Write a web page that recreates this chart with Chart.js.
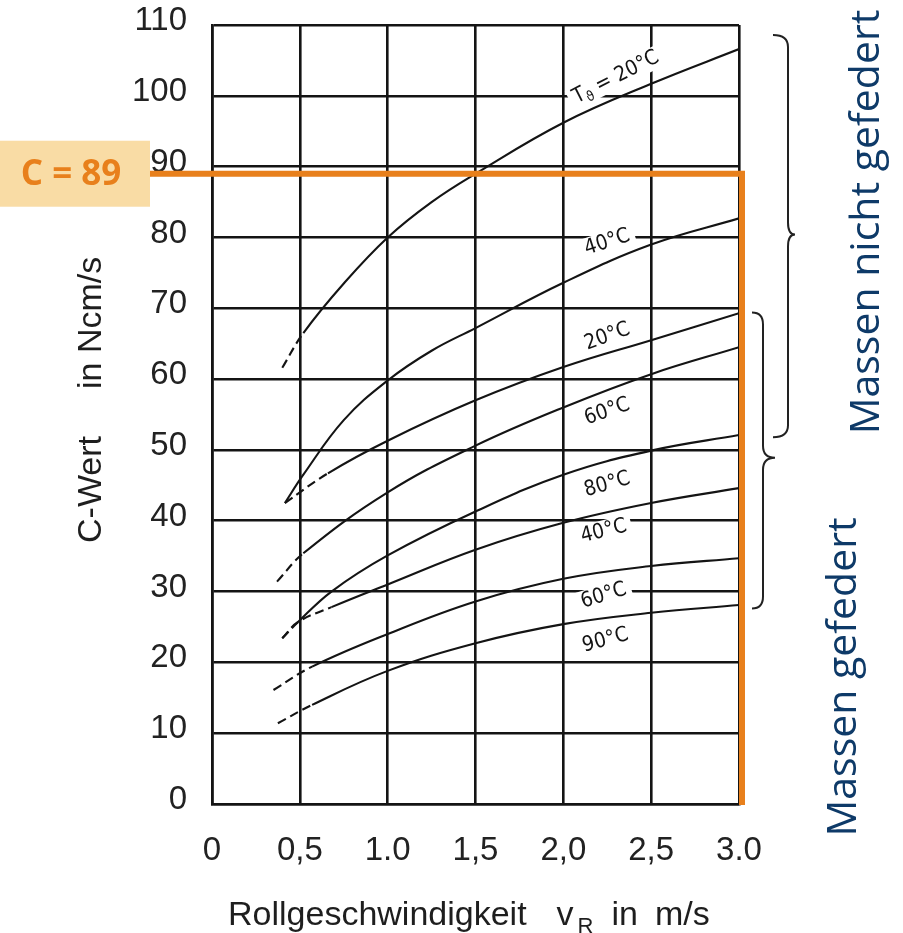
<!DOCTYPE html>
<html lang="de">
<head>
<meta charset="utf-8">
<title>C-Wert über Rollgeschwindigkeit</title>
<script src="https://cdn.jsdelivr.net/npm/chart.js@4.4.1/dist/chart.umd.min.js"></script>
<style>
    html, body { margin: 0; padding: 0; background: #fff; }
    #wrap { width: 903px; height: 933px; }
</style>
</head>
<body>
<div id="wrap"><canvas id="chart" width="903" height="933"></canvas></div>
<script>
// Values: x = Rollgeschwindigkeit v_R (m/s), y = C-Wert (Ncm/s)
const xTickLabels = ['0', '0,5', '1.0', '1,5', '2,0', '2,5', '3.0'];

// Massen nicht gefedert
const n20X = [0.40, 0.52, 0.75, 1.00, 1.25, 1.50, 2.00, 2.50, 3.00];
const n20Y = [61.6, 66.5, 73.5, 80.0, 85.0, 89.0, 96.2, 101.7, 106.6];
const n40X = [0.415, 0.52, 0.75, 1.00, 1.25, 1.50, 2.00, 2.50, 3.00];
const n40Y = [42.5, 46.5, 54.2, 59.8, 64.0, 67.2, 73.6, 79.0, 82.7];

// Massen gefedert
const g20X = [0.415, 0.66, 1.00, 1.50, 2.00, 2.50, 3.00];
const g20Y = [42.5, 46.7, 51.3, 57.0, 61.7, 65.5, 69.3];
const g60X = [0.37, 0.52, 1.00, 1.50, 2.00, 2.50, 3.00];
const g60Y = [31.4, 35.4, 44.0, 50.6, 56.0, 60.7, 64.5];
const g80X = [0.40, 0.49, 0.68, 1.00, 1.50, 2.00, 2.50, 3.00];
const g80Y = [23.4, 25.7, 30.0, 35.1, 41.3, 46.5, 49.9, 52.1];
const g40X = [0.40, 0.49, 0.68, 1.00, 1.50, 2.00, 2.50, 3.00];
const g40Y = [23.4, 25.7, 27.8, 31.0, 35.9, 39.7, 42.5, 44.6];
const g60bX = [0.35, 0.57, 1.00, 1.50, 2.00, 2.50, 3.00];
const g60bY = [16.1, 19.4, 24.0, 28.6, 31.8, 33.6, 34.7];
const g90X = [0.375, 0.57, 1.00, 1.50, 2.00, 2.50, 3.00];
const g90Y = [11.4, 14.0, 18.8, 22.7, 25.4, 27.0, 28.1];

// number of leading dashed segments per curve
const dashedSegments = [1, 0, 1, 1, 1, 2, 1, 1];

// marked reading: C at v_R = 3.0 m/s
const cValue = 89;
const cSpeed = 3.0;

// curve labels (anchor in data units, angle in degrees)
const curveLabels = [
    { text: 'T', sub: 'ϑ', rest: ' = 20°C', x: 2.30, y: 102.6, angle: -27 },
    { text: '40°C', x: 2.25, y: 79.3, angle: -18 },
    { text: '20°C', x: 2.25, y: 66.0, angle: -20 },
    { text: '60°C', x: 2.25, y: 55.4, angle: -19 },
    { text: '80°C', x: 2.25, y: 45.1, angle: -16 },
    { text: '40°C', x: 2.23, y: 38.5, angle: -14 },
    { text: '60°C', x: 2.23, y: 29.4, angle: -17 },
    { text: '90°C', x: 2.24, y: 23.1, angle: -15 },
];

// brace ranges in C-Wert units
const braceUpper = { top: 108.6, tip: 80.4, bottom: 51.8 };
const braceLower = { top: 69.4, tip: 48.9, bottom: 27.6 };

const curves = [
    [n20X, n20Y], [n40X, n40Y], [g20X, g20Y], [g60X, g60Y],
    [g80X, g80Y], [g40X, g40Y], [g60bX, g60bY], [g90X, g90Y],
];

const INK = '#141414';
const ORANGE = '#E8801C';
const NAVY = '#0E3A68';
const labelFont = '21px "DejaVu Sans Condensed", "Liberation Sans Narrow", sans-serif';
const subFont = '14px "DejaVu Sans Condensed", "Liberation Sans Narrow", sans-serif';

const datasets = curves.map(([xs, ys], i) => ({
    data: xs.map((x, k) => ({ x, y: ys[k] })),
    borderColor: INK,
    borderWidth: 2.1,
    pointRadius: 0,
    fill: false,
    tension: 0.4,
    segment: {
        borderDash: c => (c.p1DataIndex <= dashedSegments[i] ? [9, 5] : undefined),
    },
}));

function labelWidth(ctx, l) {
    ctx.font = labelFont;
    let w = ctx.measureText(l.text).width;
    if (l.sub) {
        ctx.font = subFont;
        w += ctx.measureText(l.sub).width;
        ctx.font = labelFont;
        w += ctx.measureText(l.rest).width;
    }
    return w;
}

function drawBrace(ctx, xLine, xHook, xTip, yTop, yTip, yBot) {
    const r = 12;
    ctx.beginPath();
    ctx.moveTo(xHook, yTop);
    ctx.quadraticCurveTo(xLine, yTop, xLine, yTop + r);
    ctx.lineTo(xLine, yTip - r);
    ctx.quadraticCurveTo(xLine, yTip, xTip, yTip);
    ctx.quadraticCurveTo(xLine, yTip, xLine, yTip + r);
    ctx.lineTo(xLine, yBot - r);
    ctx.quadraticCurveTo(xLine, yBot, xHook, yBot);
    ctx.stroke();
}

const decorations = {
    id: 'decorations',
    beforeDatasetsDraw(chart) {
        // white patches under the curve labels, cutting the grid
        const { ctx, scales: { x, y } } = chart;
        ctx.save();
        curveLabels.forEach(l => {
            const w = labelWidth(ctx, l);
            ctx.save();
            ctx.translate(x.getPixelForValue(l.x), y.getPixelForValue(l.y));
            ctx.rotate(l.angle * Math.PI / 180);
            ctx.fillStyle = '#fff';
            ctx.fillRect(-w / 2 - 5, -11, w + 10, 22);
            ctx.restore();
        });
        ctx.restore();
    },
    afterDatasetsDraw(chart) {
        const { ctx, scales: { x, y } } = chart;
        ctx.save();
        ctx.fillStyle = INK;
        ctx.textBaseline = 'middle';
        ctx.textAlign = 'left';
        curveLabels.forEach(l => {
            const w = labelWidth(ctx, l);
            ctx.save();
            ctx.translate(x.getPixelForValue(l.x), y.getPixelForValue(l.y));
            ctx.rotate(l.angle * Math.PI / 180);
            ctx.font = labelFont;
            let cx = -w / 2;
            ctx.fillText(l.text, cx, 0);
            cx += ctx.measureText(l.text).width;
            if (l.sub) {
                ctx.font = subFont;
                ctx.fillText(l.sub, cx, 6);
                cx += ctx.measureText(l.sub).width;
                ctx.font = labelFont;
                ctx.fillText(l.rest, cx, 0);
            }
            ctx.restore();
        });
        ctx.restore();
    },
    afterDraw(chart) {
        const { ctx, chartArea: area, scales: { x, y } } = chart;
        ctx.save();

        // axis titles
        ctx.fillStyle = '#1e1e1e';
        ctx.textBaseline = 'alphabetic';
        ctx.textAlign = 'left';
        const big = '34px "Liberation Sans", Arial, sans-serif';
        const small = '22px "Liberation Sans", Arial, sans-serif';
        let tx = area.left + 16;
        const ty = area.bottom + 121;
        ctx.font = big;
        ctx.fillText('Rollgeschwindigkeit', tx, ty);
        tx += ctx.measureText('Rollgeschwindigkeit').width + 30;
        ctx.fillText('v', tx, ty);
        tx += ctx.measureText('v').width + 4;
        ctx.font = small;
        ctx.fillText('R', tx, ty + 8);
        tx += ctx.measureText('R').width + 18;
        ctx.font = big;
        ctx.fillText('in', tx, ty);
        tx += ctx.measureText('in').width + 17;
        ctx.fillText('m/s', tx, ty);

        ctx.save();
        ctx.translate(area.left - 111, area.bottom - 261);
        ctx.rotate(-Math.PI / 2);
        ctx.font = big;
        ctx.fillText('C-Wert', 0, 0);
        ctx.fillText('in Ncm/s', ctx.measureText('C-Wert').width + 47, 0);
        ctx.restore();

        // braces
        ctx.strokeStyle = '#222';
        ctx.lineWidth = 2;
        drawBrace(ctx, area.right + 49, area.right + 34, area.right + 56,
            y.getPixelForValue(braceUpper.top), y.getPixelForValue(braceUpper.tip),
            y.getPixelForValue(braceUpper.bottom));
        drawBrace(ctx, area.right + 24, area.right + 13, area.right + 36,
            y.getPixelForValue(braceLower.top), y.getPixelForValue(braceLower.tip),
            y.getPixelForValue(braceLower.bottom));

        // group captions
        ctx.fillStyle = NAVY;
        ctx.font = '41px "Open Sans", "Noto Sans", sans-serif';
        ctx.textAlign = 'center';
        ctx.textBaseline = 'middle';
        ctx.save();
        ctx.translate(area.right + 128, 222);
        ctx.rotate(-Math.PI / 2);
        ctx.fillText('Massen nicht gefedert', 0, 0);
        ctx.restore();
        ctx.save();
        ctx.translate(area.right + 105, 677);
        ctx.rotate(-Math.PI / 2);
        ctx.fillText('Massen gefedert', 0, 0);
        ctx.restore();

        // C = 89 reading
        const cy = y.getPixelForValue(cValue);
        const cx = x.getPixelForValue(cSpeed) + 3;
        const boxRight = area.left - 62;
        ctx.fillStyle = '#F9DCA5';
        ctx.fillRect(0, cy - 33, boxRight, 66);
        ctx.fillStyle = ORANGE;
        ctx.font = 'bold 35px "Open Sans", "Noto Sans", sans-serif';
        ctx.fillText('C = ' + cValue, boxRight / 2 - 4, cy + 1);
        ctx.strokeStyle = ORANGE;
        ctx.lineWidth = 6;
        ctx.lineCap = 'butt';
        ctx.beginPath();
        ctx.moveTo(boxRight, cy);
        ctx.lineTo(cx, cy);
        ctx.lineTo(cx, y.getPixelForValue(0) + 1);
        ctx.stroke();

        ctx.restore();
    },
};

const tickFont = { family: '"Liberation Sans", Arial, sans-serif', size: 33 };

new Chart(document.getElementById('chart'), {
    type: 'line',
    data: { datasets },
    plugins: [decorations],
    options: {
        responsive: false,
        devicePixelRatio: 1,
        animation: false,
        layout: { padding: { top: 25, right: 164, bottom: 0, left: 0 } },
        plugins: { legend: { display: false }, tooltip: { enabled: false } },
        scales: {
            x: {
                type: 'linear',
                min: 0,
                max: 3,
                afterFit: s => { s.height = 129; },
                afterBuildTicks: s => {
                    s.ticks = xTickLabels.map((_, i) => ({ value: i * 0.5 }));
                },
                ticks: {
                    font: tickFont,
                    color: '#222',
                    padding: 27,
                    maxRotation: 0,
                    callback: (v, i) => xTickLabels[i],
                },
                grid: { color: INK, lineWidth: 2.6, drawTicks: false },
                border: { color: INK, width: 2.6 },
            },
            y: {
                min: 0,
                max: 110,
                afterFit: s => {
                    s.width = 212;
                    // keep the tick padding from pushing the plot down
                    s.paddingTop = 0;
                    s.paddingBottom = 0;
                },
                ticks: {
                    stepSize: 10,
                    font: tickFont,
                    color: '#222',
                    padding: 25,
                    labelOffset: -4,
                },
                grid: { color: INK, lineWidth: 2.6, drawTicks: false },
                border: { color: INK, width: 2.6 },
            },
        },
    },
});
</script>
</body>
</html>
